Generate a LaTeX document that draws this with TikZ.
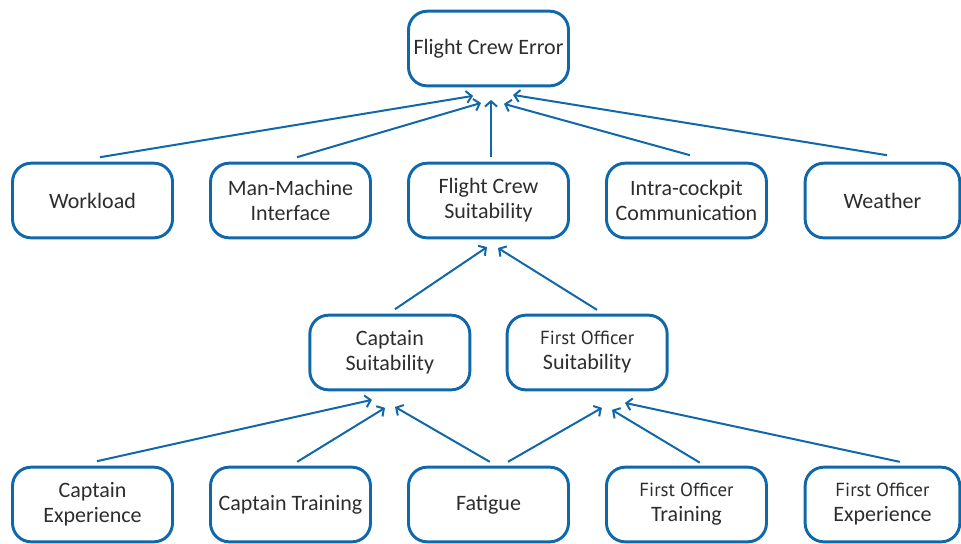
\documentclass[tikz,border=0pt]{standalone}
\usepackage{fontspec}
\setmainfont{Carlito}
\newfontfamily\narrowfont{PT Sans}
\usetikzlibrary{positioning,arrows.meta}
\definecolor{boxblue}{RGB}{16,104,170}
\definecolor{textgrey}{RGB}{45,45,45}

\begin{document}
\begin{tikzpicture}[
	main/.style={rectangle, rounded corners=14pt, align=center, minimum width=120pt, minimum height=56pt, draw=boxblue, line width=2.2pt, outer sep=0pt, text=textgrey, font=\fontsize{16.5}{18.75}\selectfont},
	slim/.style={main, minimum width=116pt},
	conn/.style={draw=boxblue, line width=1.5pt, -{Straight Barb[length=4pt,width=9pt]}}
	]
	\useasboundingbox (-366.4pt,36.4pt) rectangle (354.4pt,-371.6pt);

		\node (flightcrewerror) [main] {Flight Crew Error};
				\node (flightcrewsuit) [main, below=58pt of flightcrewerror] {Flight Crew\\Suitability};
				\node (manmachine) [main, left=28.5pt of flightcrewsuit] {Man-Machine\\Interface};
				\node (workload) [main, left=28.5pt of manmachine] {Workload};
				\node (intracockpit) [main, right=28.5pt of flightcrewsuit] {Intra-cockpit\\Communication};
				\node (weather) [slim, right=29pt of intracockpit] {Weather};

				\node (captainsuit) [main, below left=58pt and 14pt of flightcrewsuit.south] {Captain\\Suitability};
				\node (officersuit) [main, below right=58pt and 14pt of flightcrewsuit.south] {{\narrowfont\fontsize{14.2}{18.75}\selectfont First Officer}\\Suitability};

				\coordinate (aux30) at (captainsuit.south -| flightcrewsuit.south);
				\node (fatigue) [main, below=58pt of aux30] {Fatigue};
				\node (captaintraining) [main, left=28.5pt of fatigue] {Captain Training};
				\node (captainexp) [main, left=28.5pt of captaintraining] {Captain\\Experience};
				\node (officertraining) [main, right=28.5pt of fatigue] {{\narrowfont\fontsize{14.2}{18.75}\selectfont First Officer}\\Training};
				\node (officerexp) [slim, right=29pt of officertraining] {{\narrowfont\fontsize{14.2}{18.75}\selectfont First Officer}\\Experience};

	\draw [conn] ([shift={(5.6pt,4.5pt)}]workload.north) -- ([shift={(-11.6pt,-7.5pt)}]flightcrewerror.south);
	\draw [conn] ([shift={(4.9pt,4.5pt)}]manmachine.north) -- ([shift={(-5.6pt,-12.8pt)}]flightcrewerror.south);
	\draw [conn] ([shift={(1.9pt,4.5pt)}]flightcrewsuit.north) -- ([shift={(1.9pt,-10.5pt)}]flightcrewerror.south);
	\draw [conn] ([shift={(2.6pt,6pt)}]intracockpit.north) -- ([shift={(11.6pt,-13.5pt)}]flightcrewerror.south);
	\draw [conn] ([shift={(3.4pt,6pt)}]weather.north) -- ([shift={(18.4pt,-6.8pt)}]flightcrewerror.south);

	\draw [conn] ([shift={(3.9pt,4.5pt)}]captainsuit.north) -- ([shift={(-1.1pt,-6.9pt)}]flightcrewsuit.south);
	\draw [conn] ([shift={(7.4pt,4pt)}]officersuit.north) -- ([shift={(7.1pt,-7.6pt)}]flightcrewsuit.south);

	\draw [conn] ([shift={(3.4pt,4.5pt)}]captainexp.north) -- ([shift={(-13.4pt,-7.5pt)}]captainsuit.south);
	\draw [conn] ([shift={(5pt,4pt)}]captaintraining.north) -- ([shift={(-3.6pt,-13.5pt)}]captainsuit.south);
	\draw [conn] ([shift={(1pt,4pt)}]fatigue.north) -- ([shift={(3.9pt,-12.8pt)}]captainsuit.south);
	\draw [conn] ([shift={(14.6pt,4pt)}]fatigue.north) -- ([shift={(11.1pt,-13.5pt)}]officersuit.south);
	\draw [conn] ([shift={(10pt,3.4pt)}]officertraining.north) -- ([shift={(18.6pt,-15pt)}]officersuit.south);
	\draw [conn] ([shift={(13pt,4pt)}]officerexp.north) -- ([shift={(28.4pt,-9.8pt)}]officersuit.south);

	\end{tikzpicture}
\end{document}
